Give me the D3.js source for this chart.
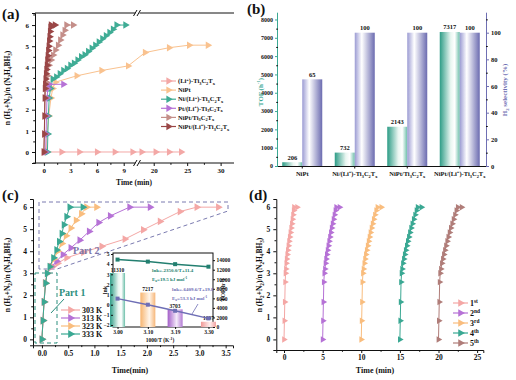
<!DOCTYPE html>
<html><head><meta charset="utf-8">
<script src="https://cdn.jsdelivr.net/npm/d3@7"></script>
<style>body{margin:0;background:#fff} svg{display:block} text{font-family:"Liberation Serif","Times New Roman",serif;fill:#111}</style>
</head><body><svg id="c" width="516" height="380"></svg>
<script>
// ---------------- DATA ----------------
// Panel (a)
const aNames = ["(Li^{+})-Ti_{3}C_{2}T_{x}","NiPt","Ni/(Li^{+})-Ti_{3}C_{2}T_{x}","Pt/(Li^{+})-Ti_{3}C_{2}T_{x}","NiPt/Ti_{3}C_{2}T_{x}","NiPt/(Li^{+})-Ti_{3}C_{2}T_{x}"];
const aColors = ["#f3a8a6","#f9c28f","#3fac95","#b672d6","#c48e89","#9a4646"];
const aT_Li = [0,2,4,6,8,10,18.2,20.3,22.3,24.1];
const aY_Li = [0,0,0,0,0,0,0,0,0,0];
const aT_NiPt = [0.3,0.35,0.55,0.8,1.0,1.3,3.7,6.5,9.5,18.7,22.3,25.3,28.1];
const aY_NiPt = [0,0.85,1.7,2.55,3.0,3.3,3.6,3.85,4.07,4.7,4.93,5.05,5.05];
const aT_Ni = [0.4,0.45,0.5,0.6,0.75,1.0,1.4,1.8,2.2,2.6,3.0,3.4,3.8,4.2,4.6,5.0,5.4,5.8,6.2,6.6,7.0,7.4,7.8,8.2,9.2];
const aY_Ni = [0,0.85,1.7,2.55,3.0,3.45,3.55,3.7,3.85,3.95,4.1,4.2,4.35,4.5,4.6,4.75,4.9,5.05,5.2,5.35,5.5,5.65,5.8,6.0,6.0];
const aT_Pt = [0.2,0.25,0.3,0.35,0.45,0.6,2.2];
const aY_Pt = [0,0.85,1.7,2.55,3.0,3.2,3.2];
const aT_NiPtTi = [0,0.05,0.1,0.15,0.2,0.28,0.4,0.56,0.8,1.05,1.3,1.6,1.85,2.1,2.35,2.55,3.3];
const aY_NiPtTi = [0,0.85,1.7,2.55,3.0,3.3,3.6,4.1,4.35,4.58,4.82,5.05,5.29,5.53,5.75,6.0,6.0];
const aT_NiPtLi = [0,0.05,0.08,0.1,0.12,0.15,0.2,0.25,0.3,0.35,0.4,0.45,0.5,0.55,0.6,0.65,0.7,0.75,0.8,1.25];
const aY_NiPtLi = [0,0.85,1.7,2.55,3.0,3.2,3.45,3.7,3.9,4.1,4.35,4.55,4.8,5.0,5.25,5.45,5.7,5.9,6.0,6.0];
const aTicksLeft = [0,3,6,9], aTicksRight = [20,25,30], aYTicks = [0,1,2,3,4,5,6];

// Panel (b)
const bCats = ["NiPt","Ni/(Li^{+})-Ti_{3}C_{2}T_{x}","NiPt/Ti_{3}C_{2}T_{x}","NiPt/(Li^{+})-Ti_{3}C_{2}T_{x}"];
const bTOF = [206,732,2143,7317];
const bSel = [65,100,100,100];
const bTOFTicks = [0,1000,2000,3000,4000,5000,6000,7000,8000];
const bSelTicks = [0,20,40,60,80,100];

// Panel (c)
const cNames = ["303 K","313 K","323 K","333 K"];
const cColors = ["#f4a7a5","#b672d6","#f9bd7e","#3aa893"];
const cT_303 = [0,0.02,0.04,0.06,0.1,0.2,0.3,0.47,0.79,1.14,1.58,1.93,2.25,2.63,2.95,3.36];
const cY_303 = [0,0.85,1.7,2.55,3.0,3.3,3.45,3.7,3.95,4.22,4.55,4.97,5.35,5.8,6.0,6.0];
const cT_313 = [0,0.02,0.04,0.07,0.1,0.18,0.28,0.4,0.55,0.72,0.9,1.08,1.3,1.67,2.06];
const cY_313 = [0,0.85,1.7,2.55,3.0,3.3,3.55,3.85,4.15,4.5,4.9,5.3,5.6,6.0,6.0];
const cT_323 = [0,0.02,0.04,0.07,0.1,0.16,0.23,0.3,0.38,0.46,0.55,0.65,0.75,0.85,1.04];
const cY_323 = [0,0.85,1.7,2.55,3.0,3.3,3.65,4.0,4.35,4.7,5.05,5.4,5.7,6.0,6.0];
const cT_333 = [0,0.02,0.04,0.07,0.1,0.15,0.22,0.28,0.33,0.38,0.42,0.47,0.53,0.78];
const cY_333 = [0,0.85,1.7,2.55,3.0,3.3,3.7,4.06,4.44,4.8,5.2,5.57,6.0,6.0];
const cXTicks = [0,0.5,1,1.5,2,2.5,3,3.5];
// inset
const iInvT = [3.00,3.10,3.19,3.30];
const iTOF = [11310,7217,3703,1097];
const iTOFLabels = ["11310","7217","3703","1097"];
const iBarColors = ["#3aa893","#f9bd7e","#b672d6","#f4a7a5"];
const iLnkFast = [4.45,4.25,4.0,3.75];
const iLnkSlow = [0.6,0.0,-0.6,-1.35];
const iLeftTicks = [-2,-1,0,1,2,3,4,5];
const iRightTicks = [0,2000,4000,6000,8000,10000,12000,14000];

// Panel (d)
const dNames = ["1^{st}","2^{nd}","3^{rd}","4^{th}","5^{th}"];
const dColors = ["#f4a7a5","#b672d6","#f9bd7e","#3aa893","#b07d79"];
const dY = [0,0.85,1.7,2.6,3.0,3.2,3.45,3.65,3.85,4.05,4.25,4.45,4.65,4.85,5.05,5.25,5.45,5.65,5.85,6.0,6.0];
const dT1 = [0,0.05,0.1,0.15,0.2,0.25,0.3,0.35,0.42,0.5,0.58,0.66,0.75,0.84,0.93,1.02,1.1,1.18,1.26,1.3,1.7];
const dT2 = [5,5.05,5.1,5.15,5.22,5.3,5.38,5.46,5.55,5.65,5.75,5.85,5.96,6.07,6.18,6.3,6.42,6.54,6.66,6.76,7.2];
const dT3 = [10,10.05,10.1,10.15,10.22,10.3,10.4,10.5,10.6,10.72,10.84,10.96,11.08,11.2,11.34,11.48,11.62,11.78,11.94,12.1,12.6];
const dT4 = [15,15.05,15.1,15.15,15.22,15.3,15.4,15.52,15.64,15.77,15.9,16.03,16.17,16.31,16.46,16.62,16.8,16.98,17.16,17.3,17.8];
const dT5 = [20,20.05,20.1,20.15,20.22,20.32,20.44,20.57,20.7,20.84,20.98,21.13,21.28,21.44,21.6,21.78,21.96,22.14,22.32,22.5,23.0];
const dXTicks = [0,5,10,15,20,25];

// ---------------- HELPERS ----------------
const svg = d3.select("#c");
const fmtInt = d3.format("d");
function rich(t, str, fs){
  const parts = str.split(/(_\{[^}]*\}|\^\{[^}]*\})/).filter(s=>s.length);
  let shift = 0;
  parts.forEach(p=>{
    let txt, dy, size = fs;
    if(p.startsWith("_{")){ txt=p.slice(2,-1); dy=fs*0.28-shift; shift=fs*0.28; size=fs*0.68; }
    else if(p.startsWith("^{")){ txt=p.slice(2,-1); dy=-fs*0.4-shift; shift=-fs*0.4; size=fs*0.68; }
    else { txt=p; dy=-shift; shift=0; }
    t.append("tspan").attr("dy",dy).attr("font-size",size).text(txt);
  });
  return t;
}
function label(g,x,y,str,fs,opts={}){
  const t = g.append("text").attr("x",x).attr("y",y).attr("font-size",fs)
    .attr("text-anchor",opts.anchor||"start");
  if(opts.rotate) t.attr("transform",`rotate(${opts.rotate},${x},${y})`);
  if(opts.weight) t.attr("font-weight",opts.weight);
  if(opts.fill) t.style("fill",opts.fill);
  rich(t,str,fs);
  return t;
}
function series(g, xs, ys, tx, ty, color, sz){
  const pts = xs.map((t,i)=>[tx(t), ty(ys[i])]);
  g.append("path").attr("d", d3.line()(pts)).attr("fill","none").attr("stroke",color).attr("stroke-width",1);
  g.selectAll(null).data(pts).enter().append("path")
    .attr("d", d3.symbol().type(d3.symbolTriangle).size(sz||26))
    .attr("transform", d=>`translate(${d[0]},${d[1]}) rotate(90)`)
    .attr("fill", color);
}
function styleAxis(g, fs, color){
  g.selectAll("path.domain").attr("stroke", color||"#111").attr("stroke-width",1);
  g.selectAll(".tick line").attr("stroke", color||"#111");
  g.selectAll(".tick text").attr("font-size",fs).style("font-family","Liberation Serif, serif").style("fill","#111").attr("font-weight","bold");
}
function minor(g, axisFn, vals){
  const m = g.append("g").call(axisFn.tickValues(vals).tickSize(1.8).tickFormat(""));
  m.select("path.domain").remove();
  m.selectAll(".tick line").attr("stroke","#111");
}
function legendRow(g,x,y,str,color,fs,len,msz){
  g.append("line").attr("x1",x).attr("x2",x+len).attr("y1",y).attr("y2",y).attr("stroke",color).attr("stroke-width",1.2);
  g.append("path").attr("d",d3.symbol().type(d3.symbolTriangle).size(msz||30)).attr("transform",`translate(${x+len/2},${y}) rotate(90)`).attr("fill",color);
  label(g,x+len+2,y+fs*0.35,str,fs,{weight:"bold"});
}
const yLabelStr = "n (H_{2}+N_{2})/n (N_{2}H_{4}BH_{3})";
const defs = svg.append("defs");
function grad(id, stops){
  const lg = defs.append("linearGradient").attr("id",id).attr("x1","0%").attr("x2","100%").attr("y1","0%").attr("y2","0%");
  stops.forEach(s=>lg.append("stop").attr("offset",s[0]).attr("stop-color",s[1]));
}
grad("gTeal",[["0%","#2d9c86"],["55%","#e9f6f1"],["75%","#ffffff"],["100%","#6cbfa9"]]);
grad("gPurp",[["0%","#9b9bd3"],["35%","#ffffff"],["100%","#6b6bb0"]]);
grad("gOrange",[["0%","#f7b570"],["60%","#fff5ea"],["100%","#f6b77a"]]);
grad("gPink",[["0%","#f09a98"],["60%","#fff0f0"],["100%","#f0a0a0"]]);
grad("gViolet",[["0%","#a35fc8"],["60%","#f4eafa"],["100%","#b27ad3"]]);
const iGrads = ["url(#gTeal)","url(#gOrange)","url(#gViolet)","url(#gPink)"];

// ---------------- PANEL (a) ----------------
{
  const g = svg.append("g");
  const xL = d3.scaleLinear().domain([-1,10.5]).range([35,137]);
  const xR = d3.scaleLinear().domain([17.8,32]).range([139,234]);
  const x = d3.scaleLinear().domain([-1,10.5,17.8,32]).range([35,137,139,234]);
  const y = d3.scaleLinear().domain([-0.52,6.57]).range([163,13]);
  const ax1 = g.append("g").attr("transform","translate(0,163)").call(d3.axisBottom(xL).tickValues(aTicksLeft).tickSize(3).tickPadding(2).tickFormat(fmtInt));
  const ax2 = g.append("g").attr("transform","translate(0,163)").call(d3.axisBottom(xR).tickValues(aTicksRight).tickSize(3).tickPadding(2).tickFormat(fmtInt));
  [ax1,ax2].forEach(a=>{ styleAxis(a,7); a.select("path.domain").remove(); });
  g.append("line").attr("x1",35).attr("x2",234).attr("y1",163).attr("y2",163).attr("stroke","#111");
  g.append("line").attr("x1",35).attr("x2",234).attr("y1",13).attr("y2",13).attr("stroke","#111");
  minor(g.append("g").attr("transform","translate(0,163)"), d3.axisBottom(xL), [1.5,4.5,7.5]);
  minor(g.append("g").attr("transform","translate(0,163)"), d3.axisBottom(xR), [22.5,27.5]);
  const ay = g.append("g").attr("transform","translate(35,0)").call(d3.axisLeft(y).tickValues(aYTicks).tickSize(3).tickPadding(3).tickFormat(fmtInt));
  styleAxis(ay,7);
  minor(g.append("g").attr("transform","translate(35,0)"), d3.axisLeft(y), [-0.5,0.5,1.5,2.5,3.5,4.5,5.5,6.5]);
  [13,163].forEach(yy=>{
    g.append("rect").attr("x",135.5).attr("y",yy-3).attr("width",4).attr("height",6).attr("fill","#fff");
    g.append("line").attr("x1",133.5).attr("y1",yy+3).attr("x2",137).attr("y2",yy-3).attr("stroke","#111");
    g.append("line").attr("x1",137).attr("y1",yy+3).attr("x2",140.5).attr("y2",yy-3).attr("stroke","#111");
  });
  const sets = [[aT_Li,aY_Li],[aT_NiPt,aY_NiPt],[aT_Ni,aY_Ni],[aT_Pt,aY_Pt],[aT_NiPtTi,aY_NiPtTi],[aT_NiPtLi,aY_NiPtLi]];
  sets.forEach((s,i)=>series(g,s[0],s[1],x,y,aColors[i],24));
  aNames.forEach((n,i)=>legendRow(g,161,81+i*9.1,n,aColors[i],6.5,15,24));
  label(g,10,88,yLabelStr,7.5,{anchor:"middle",rotate:-90,weight:"bold"});
  label(g,134,185,"Time (min)",7.5,{anchor:"middle",weight:"bold"});
  label(g,2,19,"(a)",15,{weight:"bold"});
}

// ---------------- PANEL (b) ----------------
{
  const g = svg.append("g");
  const x = d3.scaleBand().domain(bCats).range([276,486]).padding(0);
  const yL = d3.scaleLinear().domain([0,8370]).range([166,12.7]);
  const yR = d3.scaleLinear().domain([0,115]).range([166,12.7]);
  const bw = 20;
  bCats.forEach((c,i)=>{
    const cx = x(c)+x.bandwidth()/2;
    g.append("rect").attr("x",cx-bw).attr("y",yL(bTOF[i])).attr("width",bw).attr("height",166-yL(bTOF[i])).attr("fill","url(#gTeal)");
    g.append("rect").attr("x",cx).attr("y",yR(bSel[i])).attr("width",bw).attr("height",166-yR(bSel[i])).attr("fill","url(#gPurp)");
    g.append("text").attr("x",cx-bw/2).attr("y",yL(bTOF[i])-2.5).attr("text-anchor","middle").attr("font-size",6.5).attr("font-weight","bold").text(bTOF[i]);
    g.append("text").attr("x",cx+bw/2).attr("y",yR(bSel[i])-2.5).attr("text-anchor","middle").attr("font-size",6.5).attr("font-weight","bold").text(bSel[i]);
    label(g,cx,176,c,6.5,{anchor:"middle",weight:"bold"});
  });
  const axB = g.append("g").attr("transform","translate(0,166)").call(d3.axisBottom(x).tickSize(2.5).tickFormat(""));
  styleAxis(axB,6.5);
  axB.select("path.domain").attr("d","M278,0.5H486");
  const axL = g.append("g").attr("transform","translate(278,0)").call(d3.axisLeft(yL).tickValues(bTOFTicks).tickSize(3).tickPadding(2).tickFormat(fmtInt));
  styleAxis(axL,6,"#3aa893");
  axL.select("path.domain").attr("d","M-0.5,166V12.7");
  minor(g.append("g").attr("transform","translate(278,0)"), d3.axisLeft(yL), [500,1500,2500,3500,4500,5500,6500,7500]);
  const axR = g.append("g").attr("transform","translate(486,0)").call(d3.axisRight(yR).tickValues(bSelTicks).tickSize(3).tickPadding(2).tickFormat(fmtInt));
  styleAxis(axR,6.5,"#6f6fb3");
  axR.select("path.domain").attr("d","M0.5,166V12.7");
  minor(g.append("g").attr("transform","translate(486,0)"), d3.axisRight(yR), [10,30,50,70,90,110]);
  label(g,263,92,"TOF (h^{-1})",7,{anchor:"middle",rotate:-90,weight:"bold",fill:"#3aa893"});
  label(g,507,90,"H_{2} selectivity (%)",7,{anchor:"middle",rotate:-90,weight:"bold",fill:"#6f6fb3"});
  label(g,247,14,"(b)",15,{weight:"bold"});
}

// ---------------- PANEL (c) ----------------
{
  const g = svg.append("g");
  const x = d3.scaleLinear().domain([-0.17,3.64]).range([33,233]);
  const y = d3.scaleLinear().domain([-0.27,6.37]).range([345.3,199]);
  const ax = g.append("g").attr("transform","translate(0,345.3)").call(d3.axisBottom(x).tickValues(cXTicks).tickSize(3).tickPadding(2).tickFormat(d3.format(".1f")));
  styleAxis(ax,7.5);
  minor(g.append("g").attr("transform","translate(0,345.3)"), d3.axisBottom(x), [0.25,0.75,1.25,1.75,2.25,2.75,3.25]);
  const ay = g.append("g").attr("transform","translate(33,0)").call(d3.axisLeft(y).tickValues([0,1,2,3,4,5,6]).tickSize(3).tickPadding(3).tickFormat(fmtInt));
  styleAxis(ay,7.5);
  minor(g.append("g").attr("transform","translate(33,0)"), d3.axisLeft(y), [0.5,1.5,2.5,3.5,4.5,5.5]);
  g.append("path").attr("d","M39,269V202H228V211L57,269Z").attr("fill","none").attr("stroke","#7b7bb0").attr("stroke-width",1).attr("stroke-dasharray","4,3");
  g.append("rect").attr("x",35).attr("y",273).attr("width",22).attr("height",70).attr("fill","none").attr("stroke","#2d8f7e").attr("stroke-width",1).attr("stroke-dasharray","4,3");
  const sets=[[cT_303,cY_303],[cT_313,cY_313],[cT_323,cY_323],[cT_333,cY_333]];
  sets.forEach((s,i)=>series(g,s[0],s[1],x,y,cColors[i],26));
  g.append("text").attr("x",73).attr("y",254).attr("font-size",10).attr("font-weight","bold").style("fill","#7b74a8").text("Part 2");
  g.append("text").attr("x",59).attr("y",296).attr("font-size",10).attr("font-weight","bold").style("fill","#2d8f7e").text("Part 1");
  g.append("line").attr("x1",64).attr("y1",299).attr("x2",51).attr("y2",313).attr("stroke","#2d8f7e");
  cNames.forEach((n,i)=>legendRow(g,61,310+i*8,n,cColors[i],8,19,28));
  label(g,10,275,yLabelStr,7.5,{anchor:"middle",rotate:-90,weight:"bold"});
  label(g,130,373,"Time(min)",8,{anchor:"middle",weight:"bold"});
  label(g,2,200,"(c)",15,{weight:"bold"});

  // inset
  const ig = g.append("g");
  const ix = d3.scaleLinear().domain([2.985,3.315]).range([113,213]);
  const iyL = d3.scaleLinear().domain([-2.2,5.1]).range([327,253]);
  const iyR = d3.scaleLinear().domain([0,15500]).range([327,253]);
  ig.append("rect").attr("x",113).attr("y",253).attr("width",100).attr("height",74).attr("fill","#fff").attr("stroke","#111");
  iInvT.forEach((v,i)=>{
    ig.append("rect").attr("x",ix(v)-7.5).attr("y",iyR(iTOF[i])).attr("width",15).attr("height",327-iyR(iTOF[i])).attr("fill",iGrads[i]);
    ig.append("text").attr("x",ix(v)).attr("y",iyR(iTOF[i])-1.5).attr("text-anchor","middle").attr("font-size",5.5).attr("font-weight","bold").text(iTOFLabels[i]);
  });
  const lf = d3.line().x((d,i)=>ix(iInvT[i])).y(d=>iyL(d));
  ig.append("path").attr("d",lf(iLnkFast)).attr("fill","none").attr("stroke","#237f70").attr("stroke-width",1.5);
  ig.append("path").attr("d",lf(iLnkSlow)).attr("fill","none").attr("stroke","#6e6eb5").attr("stroke-width",1.5);
  ig.selectAll(null).data(iLnkFast).enter().append("rect").attr("x",(d,i)=>ix(iInvT[i])-2).attr("y",d=>iyL(d)-2).attr("width",4).attr("height",4).attr("fill","#237f70");
  ig.selectAll(null).data(iLnkSlow).enter().append("rect").attr("x",(d,i)=>ix(iInvT[i])-2).attr("y",d=>iyL(d)-2).attr("width",4).attr("height",4).attr("fill","#6e6eb5");
  const iax = ig.append("g").attr("transform","translate(0,327)").call(d3.axisBottom(ix).tickValues(iInvT).tickSize(2).tickPadding(1).tickFormat(d3.format(".2f")));
  styleAxis(iax,5.5); iax.select("path.domain").remove();
  const iayL = ig.append("g").attr("transform","translate(113,0)").call(d3.axisLeft(iyL).tickValues(iLeftTicks).tickSize(2).tickPadding(1.5).tickFormat(fmtInt));
  styleAxis(iayL,5.5); iayL.select("path.domain").remove();
  const iayR = ig.append("g").attr("transform","translate(213,0)").call(d3.axisRight(iyR).tickValues(iRightTicks).tickSize(2).tickPadding(1.5).tickFormat(fmtInt));
  styleAxis(iayR,5.5); iayR.select("path.domain").remove();
  label(ig,107,290,"lnk",6,{anchor:"middle",rotate:-90,weight:"bold"});
  label(ig,225,290,"TOF(h^{-1})",6,{anchor:"middle",rotate:-90,weight:"bold"});
  label(ig,160,342,"1000/T (K^{-1})",5.5,{anchor:"middle",weight:"bold"});
  label(ig,152,272,"lnk=-2350.0/T+11.4",5,{fill:"#237f70",weight:"bold"});
  label(ig,152,281,"E_{a}=19.5 kJ mol^{-1}",5,{fill:"#237f70",weight:"bold"});
  label(ig,172,291,"lnk=-6409.6/T+19.8",5,{fill:"#6e6eb5",weight:"bold"});
  label(ig,172,300,"E_{a}=53.3 kJ mol^{-1}",5,{fill:"#6e6eb5",weight:"bold"});
  ig.append("line").attr("x1",198).attr("y1",304).attr("x2",192).attr("y2",314).attr("stroke","#6e6eb5").attr("stroke-width",0.8);
}

// ---------------- PANEL (d) ----------------
{
  const g = svg.append("g");
  const x = d3.scaleLinear().domain([-1,25.8]).range([276.3,483.3]);
  const y = d3.scaleLinear().domain([-0.48,6.37]).range([350,199]);
  const ax = g.append("g").attr("transform","translate(0,350)").call(d3.axisBottom(x).tickValues(dXTicks).tickSize(3).tickPadding(2).tickFormat(fmtInt));
  styleAxis(ax,7.5);
  minor(g.append("g").attr("transform","translate(0,350)"), d3.axisBottom(x), [2.5,7.5,12.5,17.5,22.5]);
  const ay = g.append("g").attr("transform","translate(276.3,0)").call(d3.axisLeft(y).tickValues([0,1,2,3,4,5,6]).tickSize(3).tickPadding(3).tickFormat(fmtInt));
  styleAxis(ay,7.5);
  minor(g.append("g").attr("transform","translate(276.3,0)"), d3.axisLeft(y), [0.5,1.5,2.5,3.5,4.5,5.5]);
  [dT1,dT2,dT3,dT4,dT5].forEach((t,i)=>series(g,t,dY,x,y,dColors[i],18));
  dNames.forEach((n,i)=>legendRow(g,453,303+i*10,n,dColors[i],8,15,26));
  label(g,262,275,yLabelStr,7.5,{anchor:"middle",rotate:-90,weight:"bold"});
  label(g,375,373,"Time (min)",8,{anchor:"middle",weight:"bold"});
  label(g,249,200,"(d)",15,{weight:"bold"});
}
</script></body></html>
